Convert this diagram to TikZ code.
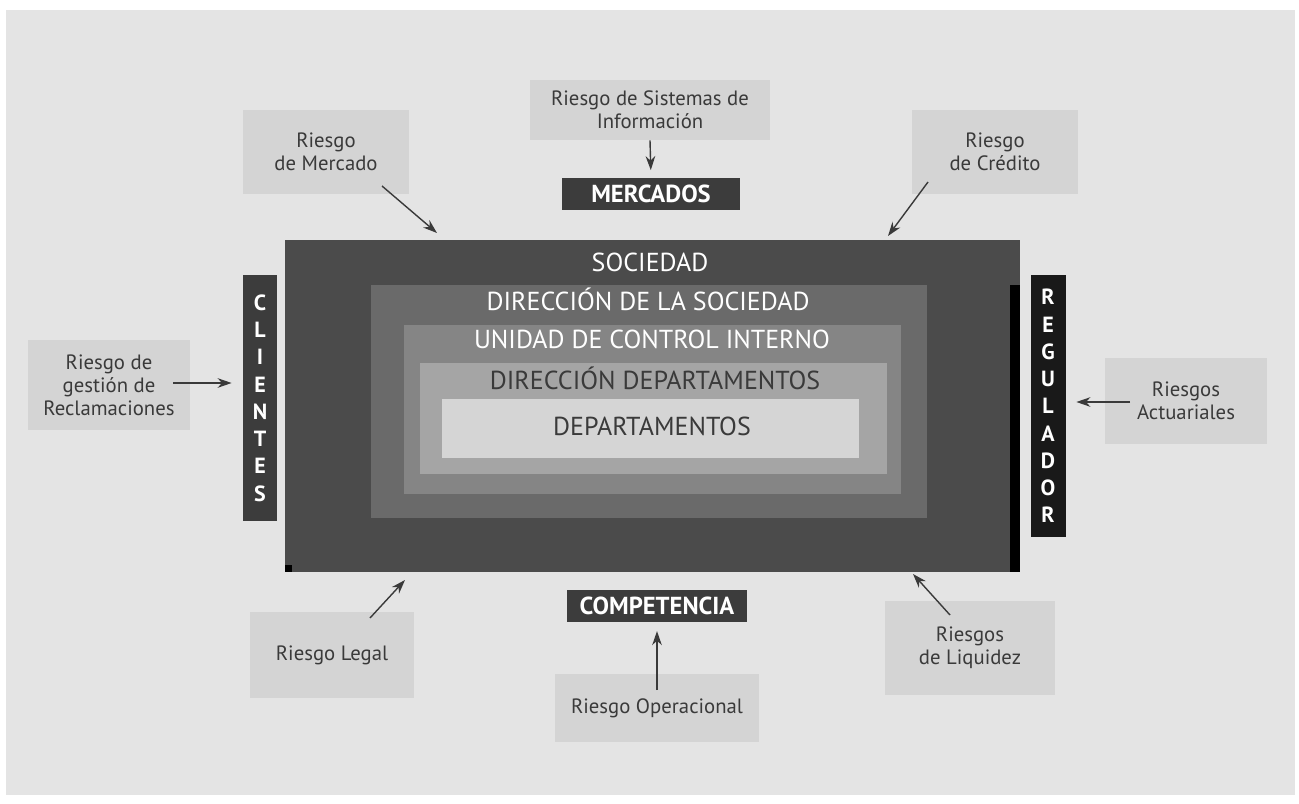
\documentclass[tikz,border=0pt]{standalone}
\usepackage{fontspec}
\setmainfont{PT Sans}
\usetikzlibrary{positioning,fit,arrows.meta}

\definecolor{fondo}{HTML}{E4E4E4}
\definecolor{caja}{HTML}{D4D4D4}
\definecolor{tinta}{HTML}{3A3A3A}
\definecolor{oscuro}{HTML}{3C3C3C}
\definecolor{nivelA}{HTML}{4B4B4B}
\definecolor{nivelB}{HTML}{6A6A6A}
\definecolor{nivelC}{HTML}{858585}
\definecolor{nivelD}{HTML}{A5A5A5}
\definecolor{nivelE}{HTML}{D5D5D5}

\begin{document}
\begin{tikzpicture}[x=0.02cm,y=-0.02cm,>={Stealth[length=8pt,width=5.5pt]},
  riesgo/.style={fill=caja,text=tinta,align=center,inner sep=0pt,
    font=\fontsize{11.8}{13}\selectfont},
  entorno/.style={fill=oscuro,text=white,inner sep=0pt,
    font=\bfseries\fontsize{14}{16}\selectfont},
  vertical/.style={fill=oscuro,text=white,inner sep=0pt,align=center,
    minimum width=0.7cm,font=\bfseries\fontsize{12.5}{15.5}\selectfont},
  nivel/.style={inner sep=0pt},
  etiqueta/.style={text=white,font=\fontsize{14.8}{16}\selectfont},
  flecha/.style={->,thick,tinta}]

\useasboundingbox (0,0) rectangle (1299,804);
\fill[white] (0,0) rectangle (1299,804);
\fill[fondo] (6,10) rectangle (1295,795);

% niveles de la sociedad
\node[nivel,fill=nivelA,fit={(285,240) (1020,572)}] (soc) {};
\node[nivel,fill=nivelB,fit={(371,285) (927,518)}] (dir) {};
\node[nivel,fill=nivelC,fit={(404,325) (901,494)}] (uci) {};
\node[nivel,fill=nivelD,fit={(420,363) (887,474)}] (ddep) {};
\node[nivel,fill=nivelE,fit={(442,399) (859,458)}] (dep) {};
\fill[black] (1010,285) rectangle (1020,572);
\fill[black] (285,565) rectangle (292,572);

\node[etiqueta] (soct) at (650,262) {SOCIEDAD};
\node[etiqueta] (dirt) at (648,299) {DIRECCIÓN DE LA SOCIEDAD};
\node[etiqueta] (ucit) at (652,339) {UNIDAD DE CONTROL INTERNO};
\node[etiqueta,text=tinta] (ddept) at (655,378) {DIRECCIÓN DEPARTAMENTOS};
\node[etiqueta,text=tinta] (dept) at (652,426) {DEPARTAMENTOS};

% entorno
\node[entorno,minimum width=3.56cm,minimum height=0.66cm] (mer) at (651,194) {MERCADOS};
\node[entorno,minimum width=3.6cm,minimum height=0.64cm] (comp) at (657,606) {COMPETENCIA};
\node[vertical,minimum height=4.94cm] (cli) at (260,398) {C\\L\\I\\E\\N\\T\\E\\S};
\node[vertical,fill=black!90,minimum height=5.24cm] (reg) at (1048,406) {R\\E\\G\\U\\L\\A\\D\\O\\R};

% riesgos
\node[riesgo,minimum width=4.8cm,minimum height=1.2cm] (rsis) at (650,110) {Riesgo de Sistemas de\\Información};
\node[riesgo,minimum width=3.34cm,minimum height=1.7cm] (rmer) at (326,152) {Riesgo\\de Mercado};
\node[riesgo,minimum width=3.32cm,minimum height=1.7cm] (rcre) at (995,152) {Riesgo\\de Crédito};
\node[riesgo,minimum width=3.24cm,minimum height=1.8cm] (rrec) at (109,385) {Riesgo de\\gestión de\\Reclamaciones};
\node[riesgo,minimum width=3.26cm,minimum height=1.74cm] (ract) at (1186,401) {Riesgos\\Actuariales};
\node[riesgo,minimum width=3.3cm,minimum height=1.72cm] (rleg) at (332,655) {Riesgo Legal};
\node[riesgo,minimum width=3.4cm,minimum height=1.9cm] (rliq) at (970,648) {Riesgos\\de Liquidez};
\node[riesgo,minimum width=4.1cm,minimum height=1.36cm] (rope) at (657,708) {Riesgo Operacional};

% flechas
\coordinate (mer-a) at (382,186);
\coordinate (mer-b) at (437,233);
\coordinate (cre-a) at (928,182);
\coordinate (cre-b) at (888,236);
\coordinate (rec-a) at (173,383);
\coordinate (act-a) at (1130,402);
\coordinate (leg-a) at (370,618);
\coordinate (leg-b) at (405,580);
\coordinate (liq-a) at (950,615);
\coordinate (liq-b) at (913,574);
\coordinate (ope-a) at (657,690);

\draw[flecha,shorten >=4pt] (rsis.south) -- (mer.north);
\draw[flecha] (mer-a) -- (mer-b);
\draw[flecha] (cre-a) -- (cre-b);
\draw[flecha,shorten >=6pt] (rec-a) -- (cli.west |- rec-a);
\draw[flecha,shorten >=6pt] (act-a) -- (reg.east |- act-a);
\draw[flecha] (leg-a) -- (leg-b);
\draw[flecha] (liq-a) -- (liq-b);
\draw[flecha,shorten >=5pt] (ope-a) -- (comp.south);
\end{tikzpicture}
\end{document}
